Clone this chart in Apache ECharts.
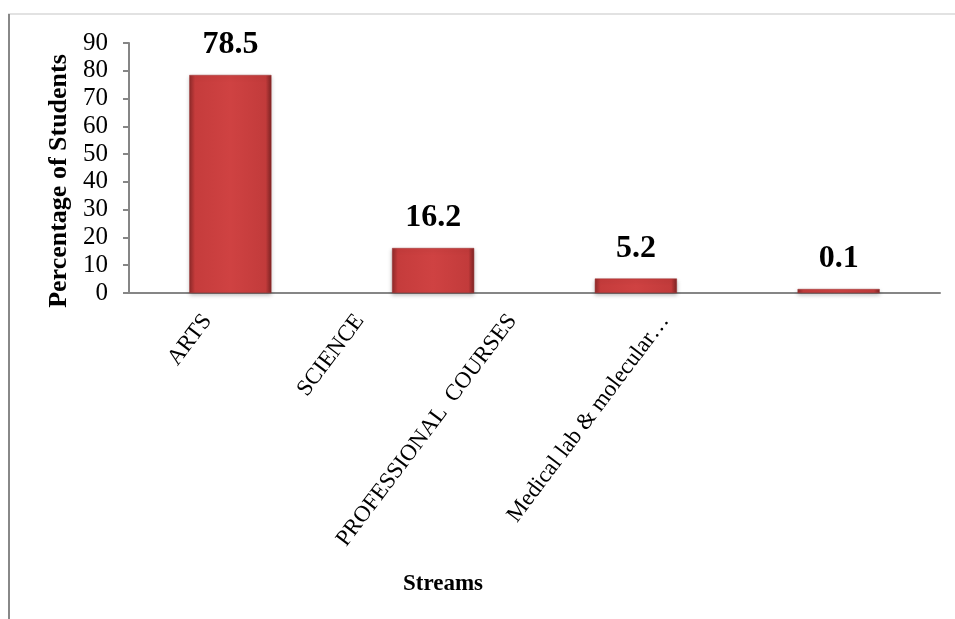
<!DOCTYPE html>
<html>
<head>
<meta charset="utf-8">
<script src="https://cdn.jsdelivr.net/npm/echarts@6/dist/echarts.min.js"></script>
<style>
html,body{margin:0;padding:0;background:#fff;}
#chart{width:955px;height:619px;}
</style>
</head>
<body>
<div id="chart"></div>
<script>
var categories = ['ARTS', 'SCIENCE', 'PROFESSIONAL  COURSES', 'Medical lab & molecular\u2026'];
var values = [78.5, 16.2, 5.2, 0.1];
var yTicks = { min: 0, max: 90, interval: 10 };
var yTitle = 'Percentage of Students';
var xTitle = 'Streams';

var serif = '"Liberation Serif", "Times New Roman", serif';
var chart = echarts.init(document.getElementById('chart'));

var barFill = new echarts.graphic.LinearGradient(0, 0, 1, 0, [
  { offset: 0, color: '#8f2a2a' },
  { offset: 0.07, color: '#c53c3c' },
  { offset: 0.5, color: '#cf4242' },
  { offset: 0.93, color: '#c23b3b' },
  { offset: 1, color: '#7e2424' }
]);

chart.setOption({
  animation: false,
  backgroundColor: '#ffffff',
  title: {
    text: xTitle,
    left: 438,
    top: 568,
    textAlign: 'center',
    textStyle: { fontFamily: serif, fontSize: 23, fontWeight: 'bold', color: '#000' }
  },
  graphic: [
    { type: 'line', shape: { x1: 8, y1: 14, x2: 955, y2: 14 }, style: { stroke: '#d9d9d9', lineWidth: 1.5 } },
    { type: 'line', shape: { x1: 9, y1: 14, x2: 9, y2: 619 }, style: { stroke: '#888888', lineWidth: 2 } }
  ],
  grid: [
    { left: 129, right: 15, top: 43, bottom: 326 },
    { left: 131, right: 214, top: 43, bottom: 326 }
  ],
  xAxis: [
    {
      type: 'category',
      gridIndex: 0,
      data: categories,
      axisLine: { lineStyle: { color: '#868686', width: 2 } },
      axisTick: { show: false },
      axisLabel: { show: false }
    },
    {
      type: 'category',
      gridIndex: 1,
      data: categories,
      axisLine: { show: false },
      axisTick: { show: false },
      axisLabel: {
        rotate: 53,
        margin: 24,
        interval: 0,
        fontFamily: serif,
        fontSize: 23,
        color: '#000'
      }
    }
  ],
  yAxis: [
    {
      type: 'value',
      gridIndex: 0,
      min: yTicks.min,
      max: yTicks.max,
      interval: yTicks.interval,
      name: yTitle,
      nameLocation: 'middle',
      nameGap: 56,
      nameTextStyle: { fontFamily: serif, fontSize: 26, fontWeight: 'bold', color: '#000', padding: [0, 26, 0, 0] },
      axisLine: { show: true, lineStyle: { color: '#868686', width: 2 } },
      axisTick: { show: true, length: 6, lineStyle: { color: '#868686', width: 2 } },
      axisLabel: { fontFamily: serif, fontSize: 25, color: '#000', margin: 21 },
      splitLine: { show: false }
    },
    {
      type: 'value',
      gridIndex: 1,
      show: false
    }
  ],
  series: [
    {
      type: 'bar',
      xAxisIndex: 0,
      yAxisIndex: 0,
      data: values,
      barWidth: '40.5%',
      barMinHeight: 4,
      itemStyle: {
        color: barFill,
        borderColor: '#9a2f2f',
        borderWidth: 0.5,
        shadowColor: 'rgba(0,0,0,0.25)',
        shadowBlur: 4,
        shadowOffsetY: 2
      },
      label: {
        show: true,
        position: 'top',
        distance: 14,
        fontFamily: serif,
        fontSize: 32,
        fontWeight: 'bold',
        color: '#000'
      }
    }
  ]
});
</script>
</body>
</html>
